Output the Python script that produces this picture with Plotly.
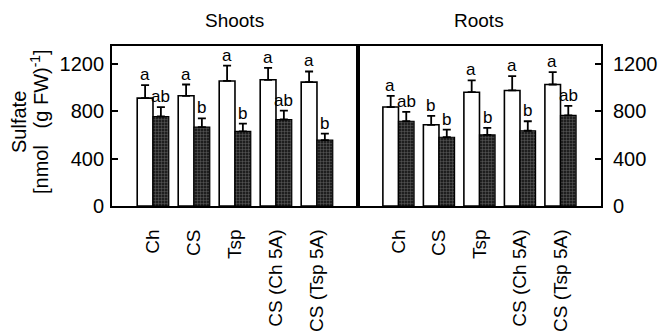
import plotly.graph_objects as go

categories = ["Ch", "CS", "Tsp", "CS (Ch 5A)", "CS (Tsp 5A)"]

shoots_white = [910, 930, 1055, 1065, 1045]
shoots_white_err = [110, 95, 130, 100, 90]
shoots_dark = [755, 665, 630, 730, 555]
shoots_dark_err = [80, 75, 65, 75, 55]

roots_white = [835, 685, 960, 975, 1025]
roots_white_err = [95, 75, 100, 120, 105]
roots_dark = [715, 580, 600, 635, 765]
roots_dark_err = [80, 65, 60, 80, 80]

shoots_white_letters = ["a", "a", "a", "a", "a"]
shoots_dark_letters = ["ab", "b", "b", "ab", "b"]
roots_white_letters = ["a", "b", "a", "a", "a"]
roots_dark_letters = ["ab", "b", "b", "b", "ab"]

y_ticks = [0, 400, 800, 1200]

FONT = "Liberation Sans, Arial, Helvetica, sans-serif"

fig = go.Figure()


def err(vals):
    return dict(type="data", array=vals, arrayminus=[0] * len(vals), symmetric=False,
                color="black", thickness=1.8, width=4)


white_marker = dict(color="white", line=dict(color="black", width=1.6))
dark_marker = dict(color="#1e1e1e", line=dict(color="black", width=1.2),
                   pattern=dict(shape="+", fgcolor="#707070", bgcolor="#1e1e1e",
                                size=3, solidity=0.25, fillmode="replace"))

for xa, ya, w, we, d, de in [("x", "y", shoots_white, shoots_white_err, shoots_dark, shoots_dark_err),
                             ("x2", "y2", roots_white, roots_white_err, roots_dark, roots_dark_err)]:
    fig.add_trace(go.Bar(x=categories, y=w, error_y=err(we), marker=white_marker,
                         xaxis=xa, yaxis=ya, showlegend=False, offsetgroup="w", hoverinfo="skip"))
    fig.add_trace(go.Bar(x=categories, y=d, error_y=err(de), marker=dark_marker,
                         xaxis=xa, yaxis=ya, showlegend=False, offsetgroup="d", hoverinfo="skip"))

annotations = []
for xa, ya, vals, errs, letters, shift in [
    ("x", "y", shoots_white, shoots_white_err, shoots_white_letters, -8),
    ("x", "y", shoots_dark, shoots_dark_err, shoots_dark_letters, 8),
    ("x2", "y2", roots_white, roots_white_err, roots_white_letters, -8),
    ("x2", "y2", roots_dark, roots_dark_err, roots_dark_letters, 8),
]:
    for c, v, e, t in zip(categories, vals, errs, letters):
        annotations.append(dict(x=c, y=v + e, xref=xa, yref=ya, text=t, showarrow=False,
                                xshift=shift, yanchor="bottom", yshift=-1,
                                font=dict(family=FONT, size=17, color="black")))

# panel titles
annotations.append(dict(x=0.5, y=1.0, xref="x domain", yref="paper", text="Shoots",
                        showarrow=False, yanchor="bottom", yshift=13,
                        font=dict(family=FONT, size=19, color="black")))
annotations.append(dict(x=0.5, y=1.0, xref="x2 domain", yref="paper", text="Roots",
                        showarrow=False, yanchor="bottom", yshift=13,
                        font=dict(family=FONT, size=19, color="black")))
# y axis title
annotations.append(dict(x=0, y=0.5, xref="paper", yref="paper", text="Sulfate",
                        showarrow=False, textangle=-90, xanchor="center", yanchor="middle",
                        xshift=-93, yshift=4, font=dict(family=FONT, size=20, color="black")))
annotations.append(dict(x=0, y=0.5, xref="paper", yref="paper",
                        text="[nmol   (g FW)<sup>-1</sup>]",
                        showarrow=False, textangle=-90, xanchor="center", yanchor="middle",
                        xshift=-73, yshift=4, font=dict(family=FONT, size=20, color="black")))

axis_common = dict(showline=True, linecolor="black", linewidth=1.8, mirror=True,
                   showgrid=False, zeroline=False)

fig.update_layout(
    width=659, height=336,
    margin=dict(l=112, r=58, t=46, b=130, autoexpand=False),
    paper_bgcolor="white", plot_bgcolor="white",
    barmode="group", bargap=0.23, bargroupgap=0,
    font=dict(family=FONT, size=19, color="black"),
    annotations=annotations,
    hovermode=False,
    xaxis=dict(domain=[0, 0.503], range=[-1, 5], type="category", tickangle=-90,
               ticks="", ticklabelstandoff=14, tickfont=dict(size=19), **axis_common),
    xaxis2=dict(domain=[0.503, 1], range=[-1, 5], type="category", tickangle=-90,
                ticks="", ticklabelstandoff=14, tickfont=dict(size=19), anchor="y2",
                **axis_common),
    yaxis=dict(range=[0, 1350], tickvals=y_ticks, ticks="inside", ticklen=6, tickwidth=1.5,
               tickcolor="black", tickfont=dict(size=20), ticklabelstandoff=2, anchor="x",
               **axis_common),
    yaxis2=dict(range=[0, 1350], tickvals=y_ticks, ticks="inside", ticklen=6, tickwidth=1.5,
                tickcolor="black", tickfont=dict(size=20), side="right", anchor="x2",
                ticklabelstandoff=6, **axis_common),
)

fig.write_html("out.html", config={"displayModeBar": False},
               post_script="document.body.style.margin='0';")
